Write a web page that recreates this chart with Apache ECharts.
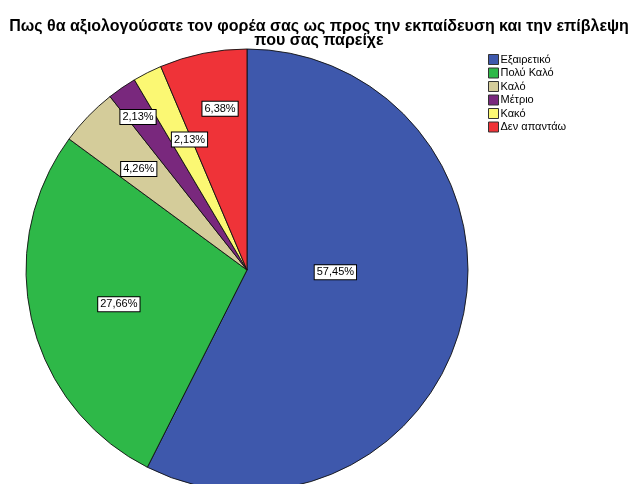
<!DOCTYPE html>
<html>
<head>
<meta charset="utf-8">
<script src="https://cdn.jsdelivr.net/npm/echarts@6/dist/echarts.min.js"></script>
<style>
  html, body { margin: 0; padding: 0; background: #fff; }
  #chart { width: 638px; height: 484px; }
</style>
</head>
<body>
<div id="chart"></div>
<script>
// categories and percentages
var categories = ['Εξαιρετικό', 'Πολύ Καλό', 'Καλό', 'Μέτριο', 'Κακό', 'Δεν απαντάω']
var percents = [57.45, 27.66, 4.26, 2.13, 2.13, 6.38]
var colors = ['#3e58ac', '#2eb848', '#d4cc9a', '#79287d', '#fbf873', '#ef3338']

// label placement (fraction of radius, angle nudge in degrees)
var labelR = [0.40, 0.60, 0.67, 0.85, 0.645, 0.74]
var labelTurn = [-12, -1.5, -1, -1, 3, 2]

var center = [247, 270]
var radius = 221

var myChart = echarts.init(document.getElementById('chart'), null, { renderer: 'canvas' })

var total = percents.reduce(function (a, b) { return a + b }, 0)
var midAngles = []
var acc = 0
percents.forEach(function (v) {
  midAngles.push((acc + v / 2) / total * 360)
  acc += v
})

var option = {
  backgroundColor: '#fff',
  animation: false,
  color: colors,
  title: {
    text: 'Πως θα αξιολογούσατε τον φορέα σας ως προς την εκπαίδευση και την επίβλεψη\nπου σας παρείχε',
    left: 'center',
    top: 14,
    textStyle: {
      fontFamily: 'Liberation Sans, Arial, sans-serif',
      fontSize: 16,
      fontWeight: 'bold',
      lineHeight: 14.5,
      color: '#000'
    }
  },
  legend: {
    orient: 'vertical',
    left: 483,
    top: 49,
    itemWidth: 10,
    itemHeight: 10,
    itemGap: 2.5,
    icon: 'rect',
    data: categories,
    itemStyle: { borderColor: '#333', borderWidth: 1 },
    textStyle: {
      fontFamily: 'Liberation Sans, Arial, sans-serif',
      fontSize: 11,
      lineHeight: 10,
      color: '#000',
      padding: [0, 0, 0, -3]
    }
  },
  series: [
    {
      type: 'pie',
      center: center,
      radius: radius,
      startAngle: 90,
      clockwise: true,
      avoidLabelOverlap: false,
      itemStyle: { borderColor: '#111', borderWidth: 0.9 },
      emphasis: { disabled: true },
      label: {
        show: true,
        position: 'inside',
        formatter: function (p) {
          return p.value.toFixed(2).replace('.', ',') + '%'
        },
        fontFamily: 'Liberation Sans, Arial, sans-serif',
        fontSize: 11,
        color: '#000',
        backgroundColor: '#fff',
        borderColor: '#000',
        borderWidth: 1,
        padding: [2, 2, 1, 2]
      },
      labelLine: { show: false },
      labelLayout: function (p) {
        var i = p.dataIndex
        var a = (midAngles[i] + labelTurn[i]) * Math.PI / 180
        var r = radius * labelR[i]
        return {
          x: center[0] + r * Math.sin(a),
          y: center[1] - r * Math.cos(a),
          align: 'center',
          verticalAlign: 'middle'
        }
      },
      data: categories.map(function (name, i) {
        return { name: name, value: percents[i] }
      })
    }
  ]
}

myChart.setOption(option)
</script>
</body>
</html>
